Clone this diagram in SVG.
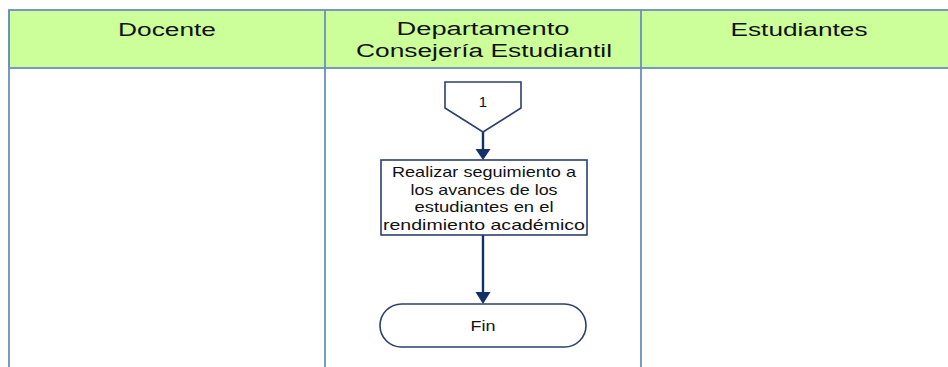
<svg xmlns="http://www.w3.org/2000/svg" width="948" height="367" viewBox="0 0 948 367">
<style>
.lane{fill:none;stroke:#6a8fc0;stroke-width:1.8}
.hdr{fill:#ccff99;stroke:#6a8fc0;stroke-width:1.8}
.ht{font-family:"Liberation Sans","Open Sans",sans-serif;font-size:18px;fill:#111;text-anchor:middle}
.node{fill:#fff;stroke:#2b3f6e;stroke-width:1.6}
.nt{font-family:"Liberation Sans","Open Sans",sans-serif;font-size:15px;fill:#111;text-anchor:middle}
.conn{stroke:#13306b;stroke-width:2.4;fill:none}
.ah{fill:#13306b}
</style>
<rect width="948" height="367" fill="#fff"/>
<g id="lanes">
<rect class="hdr" x="9" y="10" width="950" height="58"/>
<line class="lane" x1="9" y1="10" x2="9" y2="367"/>
<line class="lane" x1="325" y1="10" x2="325" y2="367"/>
<line class="lane" x1="641" y1="10" x2="641" y2="367"/>
<text class="ht" x="167" y="36" textLength="98" lengthAdjust="spacingAndGlyphs">Docente</text>
<text class="ht" x="483" y="35" textLength="173" lengthAdjust="spacingAndGlyphs">Departamento</text>
<text class="ht" x="484" y="57" textLength="256" lengthAdjust="spacingAndGlyphs">Consejería Estudiantil</text>
<text class="ht" x="799" y="36" textLength="137" lengthAdjust="spacingAndGlyphs">Estudiantes</text>
</g>
<g id="connectors">
<line class="conn" x1="483" y1="132" x2="483" y2="150"/>
<polygon class="ah" points="475.5,149 490.5,149 483,160"/>
<line class="conn" x1="483" y1="235" x2="483" y2="293"/>
<polygon class="ah" points="475.5,292 490.5,292 483,304"/>
</g>
<g id="offpage1">
<polygon class="node" points="445,82 521,82 521,108 483,132 445,108"/>
<text class="nt" x="483" y="107" font-size="13">1</text>
</g>
<g id="task1">
<rect class="node" x="381" y="160" width="206" height="75"/>
<text class="nt" x="484" y="177" textLength="184" lengthAdjust="spacingAndGlyphs">Realizar seguimiento a</text>
<text class="nt" x="484" y="194.5" textLength="147" lengthAdjust="spacingAndGlyphs">los avances de los</text>
<text class="nt" x="484" y="212" textLength="139" lengthAdjust="spacingAndGlyphs">estudiantes en el</text>
<text class="nt" x="484" y="229.5" textLength="202" lengthAdjust="spacingAndGlyphs">rendimiento académico</text>
</g>
<g id="fin">
<rect class="node" x="380" y="304" width="206" height="43" rx="21.5"/>
<text class="nt" x="483" y="331" font-size="14" textLength="25" lengthAdjust="spacingAndGlyphs">Fin</text>
</g>
</svg>
